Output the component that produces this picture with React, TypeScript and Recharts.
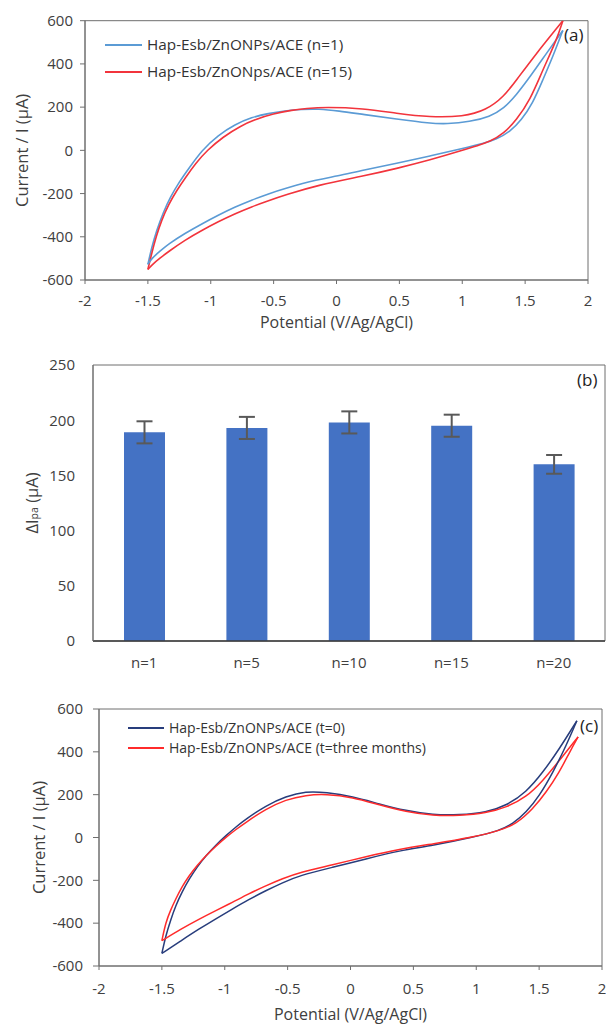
import React from 'react';
import {
  LineChart,
  Line,
  XAxis,
  YAxis,
  ReferenceArea,
  Legend,
  BarChart,
  Bar,
  ErrorBar,
} from 'recharts';

// ---------------- data ----------------
const potentialTicks = [-2, -1.5, -1, -0.5, 0, 0.5, 1, 1.5, 2];
const currentTicks = [-600, -400, -200, 0, 200, 400, 600];

// Panel (a): CV, forward (anodic) and reverse branches, [E (V), I (µA)]
const aNames = ['Hap-Esb/ZnONPs/ACE (n=1)', 'Hap-Esb/ZnONps/ACE (n=15)'];
const aN1Forward: [number, number][] = [
  [-1.5, -528], [-1.47, -450], [-1.43, -370], [-1.38, -290], [-1.32, -215],
  [-1.25, -145], [-1.17, -80], [-1.072, 0], [-0.94, 71], [-0.807, 120],
  [-0.675, 153], [-0.542, 171], [-0.41, 183], [-0.277, 190], [-0.144, 192],
  [0.015, 183], [0.213, 166], [0.478, 145], [0.743, 125],
  [0.875, 122], [1.06, 132], [1.22, 156], [1.33, 194], [1.43, 256],
  [1.54, 341], [1.67, 449], [1.8, 555],
];
const aN1Reverse: [number, number][] = [
  [-1.5, -528], [-1.47, -500], [-1.4, -465], [-1.337, -434], [-1.205, -384], [-1.07, -340], [-0.94, -300],
  [-0.81, -263], [-0.675, -230], [-0.54, -201], [-0.41, -176], [-0.144, -134], [0, -120], [0.213, -91],
  [0.478, -60], [0.743, -26], [1.01, 9], [1.17, 32], [1.27, 51],
  [1.38, 86], [1.47, 140], [1.56, 217], [1.64, 325], [1.72, 433], [1.8, 555],
];
const aN15Forward: [number, number][] = [
  [-1.5, -551], [-1.47, -478], [-1.435, -400], [-1.39, -322], [-1.335, -250],
  [-1.27, -185], [-1.2, -125], [-1.12, -60], [-1.03, 0], [-0.9, 63],
  [-0.767, 112], [-0.635, 146], [-0.5, 169], [-0.37, 185], [-0.237, 194],
  [-0.09, 200], [0.213, 194], [0.478, 171], [0.743, 153], [1.008, 156],
  [1.19, 186], [1.33, 248], [1.43, 325], [1.59, 449], [1.75, 564], [1.8, 600],
];
const aN15Reverse: [number, number][] = [
  [-1.5, -551], [-1.47, -531], [-1.4, -497], [-1.337, -469], [-1.205, -415], [-1.07, -370], [-0.94, -330],
  [-0.81, -294], [-0.675, -261], [-0.54, -233], [-0.41, -207], [-0.144, -160], [0.213, -119], [0.478, -84],
  [0.743, -45], [1.008, 1], [1.11, 20], [1.22, 40], [1.33, 78],
  [1.43, 140], [1.54, 233], [1.64, 372], [1.75, 510], [1.8, 600],
];

// Panel (b): repeatability bars
const barCategories = ['n=1', 'n=5', 'n=10', 'n=15', 'n=20'];
const barValues = [189, 193, 198, 195, 160];
const barErrors = [10, 10, 10, 10, 8.5];
const barTicks = [0, 50, 100, 150, 200, 250];

// Panel (c): stability CVs
const cNames = ['Hap-Esb/ZnONPs/ACE (t=0)', 'Hap-Esb/ZnONPs/ACE (t=three months)'];
const cT0Forward: [number, number][] = [
  [-1.5, -541], [-1.469, -458], [-1.43, -385], [-1.39, -318], [-1.34, -255], [-1.283, -194], [-1.22, -138], [-1.15, -85],
  [-1.07, -35], [-0.99, 9], [-0.91, 50], [-0.832, 86], [-0.673, 149], [-0.514, 192], [-0.355, 216],
  [-0.195, 211], [0.017, 192], [0.23, 156], [0.44, 125], [0.654, 105],
  [0.866, 105], [1.08, 117], [1.24, 149], [1.397, 211], [1.53, 304],
  [1.66, 413], [1.8, 545],
];
const cT0Reverse: [number, number][] = [
  [-1.5, -541], [-1.35, -483], [-1.204, -427], [-1.07, -379], [-0.94, -334], [-0.81, -290], [-0.673, -248], [-0.54, -211], [-0.408, -178],
  [-0.142, -139], [0.123, -100], [0.389, -61], [0.654, -38], [0.972, 1],
  [1.185, 32], [1.29, 63], [1.397, 117], [1.503, 195], [1.61, 304],
  [1.715, 429], [1.8, 545],
];
const cT3Forward: [number, number][] = [
  [-1.5, -482], [-1.469, -396], [-1.43, -338], [-1.39, -287], [-1.34, -230], [-1.283, -178], [-1.22, -130], [-1.15, -85],
  [-1.07, -40], [-0.99, 1], [-0.91, 38], [-0.832, 71], [-0.673, 133], [-0.514, 177], [-0.355, 198],
  [-0.195, 203], [0.017, 188], [0.23, 152], [0.44, 121], [0.654, 102],
  [0.866, 102], [1.08, 114], [1.24, 141], [1.397, 188], [1.53, 265],
  [1.66, 359], [1.81, 470],
];
const cT3Reverse: [number, number][] = [
  [-1.5, -482], [-1.35, -428], [-1.204, -381], [-1.07, -341], [-0.94, -303], [-0.81, -263], [-0.673, -225], [-0.54, -192], [-0.408, -163],
  [-0.142, -128], [0.123, -89], [0.389, -54], [0.654, -30], [0.972, 1],
  [1.185, 32], [1.317, 63], [1.45, 133], [1.556, 211], [1.66, 304],
  [1.742, 398], [1.81, 470],
];

// ---------------- helpers ----------------
const FONT = '"Open Sans", "Noto Sans", sans-serif';
const TEXT = '#404040';
const AXIS = '#6e6e6e';
const TITLE_SIZE = 16;

const toPts = (arr: [number, number][]) => arr.map(([x, y]) => ({ x, y }));
const barData = barCategories.map((label, i) => ({ label, value: barValues[i], err: barErrors[i] }));

const xTitle = (text: string, y: number) => (props: any) => {
  const vb = props.viewBox || {};
  const cx = vb.x + vb.width / 2;
  return (
    <text x={cx} y={y} textAnchor="middle" dominantBaseline="central" fontSize={TITLE_SIZE} fill={TEXT} fontFamily={FONT}>
      {text}
    </text>
  );
};

const yTitle = (text: string, x: number) => (props: any) => {
  const vb = props.viewBox || {};
  const cy = vb.y + vb.height / 2;
  return (
    <text x={x} y={cy} transform={`rotate(-90 ${x} ${cy})`} textAnchor="middle" dominantBaseline="central" fontSize={TITLE_SIZE + 0.5} fill={TEXT} fontFamily={FONT}>
      {text}
    </text>
  );
};

const yTitleIpa = (x: number) => (props: any) => {
  const vb = props.viewBox || {};
  const cy = vb.y + vb.height / 2;
  return (
    <text x={x} y={cy} transform={`rotate(-90 ${x} ${cy})`} textAnchor="middle" dominantBaseline="central" fontSize={TITLE_SIZE + 0.5} fill={TEXT} fontFamily={FONT}>
      ΔI
      <tspan fontSize={10.5} dy={3}>pa</tspan>
      <tspan fontSize={TITLE_SIZE + 0.5} dy={-3}> (μA)</tspan>
    </text>
  );
};

const makeLegend = (names: string[], fontSize: number, rowH: number, lineW: number) => (props: any) => (
  <div style={{ fontFamily: FONT }}>
    {(props.payload || [])
      .filter((p: any) => names.includes(p.value))
      .map((p: any, i: number) => (
        <div key={i} style={{ display: 'flex', alignItems: 'center', height: rowH }}>
          <div style={{ width: lineW, height: 2, background: p.color, marginRight: 5 }} />
          <span style={{ fontSize, color: '#333', whiteSpace: 'nowrap', lineHeight: 1 }}>{p.value}</span>
        </div>
      ))}
  </div>
);

const panelLabel = (text: string, left: number, top: number) => (
  <div style={{ position: 'absolute', left, top, fontSize: 17, color: '#222', fontFamily: FONT, lineHeight: '20px' }}>{text}</div>
);

const tickStyle = { fontSize: 15, fill: TEXT, fontFamily: FONT };
const CURVE = 'basis' as const;

// ---------------- charts ----------------
function ChartA() {
  return (
    <div style={{ position: 'absolute', left: 0, top: 0 }}>
      <LineChart width={606} height={338} margin={{ top: 20.7, right: 18, bottom: 16, left: 0 }}>
        <XAxis type="number" dataKey="x" domain={[-2, 2]} ticks={potentialTicks} interval={0} height={42}
          tickSize={4} tickMargin={11} tick={tickStyle} axisLine={{ stroke: AXIS }} tickLine={{ stroke: AXIS }}
          label={xTitle('Potential (V/Ag/AgCl)', 322)} />
        <YAxis type="number" domain={[-600, 600]} ticks={currentTicks} interval={0} width={85} allowDataOverflow
          tickSize={5} tickMargin={7} tick={tickStyle} axisLine={{ stroke: AXIS }} tickLine={{ stroke: AXIS }}
          label={yTitle('Current / I (μA)', 22)} />
        <ReferenceArea y1={-600} y2={600} fill="none" stroke={AXIS} strokeWidth={1} />
        <Legend layout="vertical" align="center" verticalAlign="middle"
          wrapperStyle={{ left: 105, top: 31.6, width: 'auto' }} content={makeLegend(aNames, 15.3, 26.7, 37)} />
        <Line data={toPts(aN1Forward)} dataKey="y" name={aNames[0]} type={CURVE} stroke="#5b9bd5" strokeWidth={1.6} dot={false} activeDot={false} isAnimationActive={false} />
        <Line data={toPts(aN15Forward)} dataKey="y" name={aNames[1]} type={CURVE} stroke="#f2343c" strokeWidth={1.6} dot={false} activeDot={false} isAnimationActive={false} />
        <Line data={toPts(aN1Reverse)} dataKey="y" name="n1rev" legendType="none" type={CURVE} stroke="#5b9bd5" strokeWidth={1.6} dot={false} activeDot={false} isAnimationActive={false} />
        <Line data={toPts(aN15Reverse)} dataKey="y" name="n15rev" legendType="none" type={CURVE} stroke="#f2343c" strokeWidth={1.6} dot={false} activeDot={false} isAnimationActive={false} />
      </LineChart>
      {panelLabel('(a)', 564, 25)}
    </div>
  );
}

function ChartB() {
  return (
    <div style={{ position: 'absolute', left: 0, top: 330 }}>
      <BarChart width={606} height={350} data={barData} margin={{ top: 35, right: 1, bottom: 9, left: 0 }}>
        <XAxis dataKey="label" height={30} tickLine={false} tickSize={0} tickMargin={16} interval={0} tick={tickStyle}
          axisLine={{ stroke: '#3a3a3a', strokeWidth: 1.5 }} />
        <YAxis type="number" domain={[0, 250]} ticks={barTicks} interval={0} width={93} tickLine={false} tickSize={0}
          tickMargin={18} tick={tickStyle} axisLine={{ stroke: AXIS }} label={yTitleIpa(31)} />
        <ReferenceArea y1={0} y2={250} fill="none" stroke={AXIS} strokeWidth={1} />
        <Bar dataKey="value" fill="#4472c4" barSize={41} isAnimationActive={false}>
          <ErrorBar dataKey="err" width={8} strokeWidth={2} stroke="#595959" />
        </Bar>
      </BarChart>
      {panelLabel('(b)', 577, 40)}
    </div>
  );
}

function ChartC() {
  return (
    <div style={{ position: 'absolute', left: 0, top: 680 }}>
      <LineChart width={606} height={346} margin={{ top: 29, right: 4, bottom: 10, left: 0 }}>
        <XAxis type="number" dataKey="x" domain={[-2, 2]} ticks={potentialTicks} interval={0} height={50}
          tickSize={4} tickMargin={13} tick={tickStyle} axisLine={{ stroke: AXIS }} tickLine={{ stroke: AXIS }}
          label={xTitle('Potential (V/Ag/AgCl)', 334)} />
        <YAxis type="number" domain={[-600, 600]} ticks={currentTicks} interval={0} width={99} allowDataOverflow
          tickSize={6} tickMargin={10} tick={tickStyle} axisLine={{ stroke: AXIS }} tickLine={{ stroke: AXIS }}
          label={yTitle('Current / I (μA)', 38)} />
        <ReferenceArea y1={-600} y2={600} fill="none" stroke={AXIS} strokeWidth={1} />
        <Legend layout="vertical" align="center" verticalAlign="middle"
          wrapperStyle={{ left: 128, top: 38, width: 'auto' }} content={makeLegend(cNames, 14, 20, 36)} />
        <Line data={toPts(cT0Forward)} dataKey="y" name={cNames[0]} type={CURVE} stroke="#283d7c" strokeWidth={1.5} dot={false} activeDot={false} isAnimationActive={false} />
        <Line data={toPts(cT3Forward)} dataKey="y" name={cNames[1]} type={CURVE} stroke="#ff2b2b" strokeWidth={1.5} dot={false} activeDot={false} isAnimationActive={false} />
        <Line data={toPts(cT0Reverse)} dataKey="y" name="t0rev" legendType="none" type={CURVE} stroke="#283d7c" strokeWidth={1.5} dot={false} activeDot={false} isAnimationActive={false} />
        <Line data={toPts(cT3Reverse)} dataKey="y" name="t3rev" legendType="none" type={CURVE} stroke="#ff2b2b" strokeWidth={1.5} dot={false} activeDot={false} isAnimationActive={false} />
      </LineChart>
      {panelLabel('(c)', 580, 36)}
    </div>
  );
}

export default function App() {
  return (
    <div style={{ position: 'absolute', left: 0, top: 0, width: 606, height: 1026, background: '#fff', fontFamily: FONT, overflow: 'hidden' }}>
      <ChartA />
      <ChartB />
      <ChartC />
    </div>
  );
}
